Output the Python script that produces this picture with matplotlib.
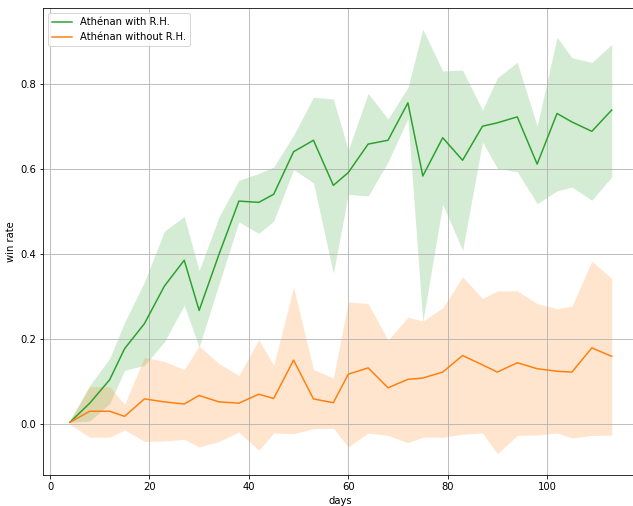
import matplotlib
matplotlib.use("Agg")
import matplotlib.pyplot as plt

days = [4, 8, 12, 15, 19, 23, 27, 30, 34, 38, 42, 45, 49, 53, 57,
        60, 64, 68, 72, 75, 79, 83, 87, 90, 94, 98, 102, 105, 109, 113]

with_rh = [0.005, 0.05, 0.105, 0.178, 0.237, 0.325, 0.386, 0.268, 0.40, 0.525,
           0.522, 0.541, 0.641, 0.668, 0.562, 0.592, 0.659, 0.668, 0.756, 0.584,
           0.674, 0.621, 0.701, 0.709, 0.723, 0.612, 0.731, 0.711, 0.689, 0.739]
with_rh_hi = [0.01, 0.092, 0.155, 0.24, 0.335, 0.454, 0.489, 0.362, 0.488, 0.574,
              0.59, 0.605, 0.68, 0.769, 0.765, 0.645, 0.778, 0.718, 0.792, 0.929,
              0.831, 0.833, 0.739, 0.815, 0.851, 0.701, 0.91, 0.862, 0.851, 0.893]
with_rh_lo = [0.005, 0.008, 0.049, 0.127, 0.139, 0.194, 0.28, 0.182, 0.33, 0.476,
              0.449, 0.478, 0.599, 0.568, 0.355, 0.541, 0.537, 0.617, 0.719, 0.241,
              0.518, 0.409, 0.664, 0.602, 0.594, 0.519, 0.549, 0.558, 0.527, 0.582]

without_rh = [0.005, 0.031, 0.031, 0.019, 0.060, 0.053, 0.048, 0.068, 0.053, 0.050,
              0.071, 0.061, 0.151, 0.060, 0.051, 0.118, 0.133, 0.086, 0.106, 0.109,
              0.123, 0.162, 0.140, 0.123, 0.145, 0.131, 0.125, 0.123, 0.180, 0.160]
without_rh_hi = [0.008, 0.089, 0.089, 0.047, 0.158, 0.148, 0.129, 0.184, 0.143, 0.115,
                 0.199, 0.139, 0.323, 0.129, 0.109, 0.288, 0.284, 0.198, 0.252, 0.243,
                 0.274, 0.347, 0.296, 0.314, 0.314, 0.284, 0.272, 0.278, 0.384, 0.343]
without_rh_lo = [0.0, -0.030, -0.030, -0.013, -0.040, -0.039, -0.035, -0.053, -0.040, -0.018,
                 -0.061, -0.020, -0.022, -0.010, -0.009, -0.053, -0.020, -0.026, -0.043, -0.030,
                 -0.030, -0.023, -0.020, -0.069, -0.026, -0.025, -0.020, -0.032, -0.026, -0.025]


def main():
    # rendered at 72 dpi so 10pt text is 10px, as in the reference
    fig = plt.figure(figsize=(633 / 72, 506 / 72), dpi=72)
    # axes run a little past the right edge (the reference is cropped there)
    ax = fig.add_axes([42.8 / 633, 31 / 506, 596 / 633, 467 / 506])

    ax.plot(days, with_rh, color="tab:green", label="Athénan with R.H.")
    ax.fill_between(days, with_rh_lo, with_rh_hi, color="tab:green", alpha=0.2, linewidth=0)
    ax.plot(days, without_rh, color="tab:orange", label="Athénan without R.H.")
    ax.fill_between(days, without_rh_lo, without_rh_hi, color="tab:orange", alpha=0.2, linewidth=0)

    ax.set_xlabel("days")
    ax.set_ylabel("win rate")
    ax.grid(True)
    ax.legend(loc="upper left")
    fig.savefig("out.png")
    plt.close(fig)


if __name__ == "__main__":
    main()
